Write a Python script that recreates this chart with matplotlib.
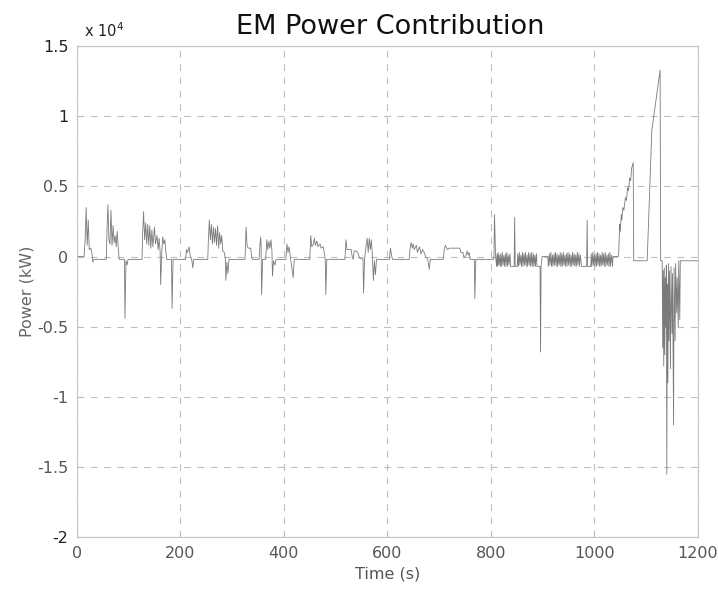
import matplotlib
matplotlib.use("Agg")
import matplotlib.pyplot as plt

# ---- data (time in s, power in W) ----
time_s = [
    0, 14, 16, 18, 20, 22, 24, 27, 29, 31, 33, 57, 58, 60, 62, 64, 66, 68, 70, 72, 74, 76, 78, 80, 82,
    92, 93, 95, 97, 99, 126, 127, 129, 131, 133, 135, 137, 139, 141, 143, 145, 147, 150, 152, 155, 157,
    159, 161, 162, 164, 166, 168, 170, 172, 174, 183, 184, 186, 210, 212, 214, 217, 219, 222, 224, 226,
    253, 254, 256, 258, 260, 262, 264, 266, 268, 270, 272, 274, 276, 278, 280, 282, 285, 287, 288, 290,
    292, 294, 325, 327, 329, 331, 336, 338, 340, 352, 355, 356, 357, 359, 365, 367, 369, 371, 373, 375,
    377, 378, 380, 383, 385, 404, 406, 408, 410, 412, 418, 420, 450, 452, 454, 457, 459, 461, 464, 466,
    470, 472, 476, 478, 480, 481, 483, 518, 520, 522, 530, 532, 534,
    536, 540, 544, 546, 553, 554, 556, 559, 561, 563, 565, 567, 569, 571, 573, 575, 577, 579, 604, 606,
    608, 610, 642, 644, 646, 648, 650, 652, 656, 658, 662, 665, 668, 671, 674, 678, 681, 683, 708, 710,
    712, 716, 720, 740, 742, 746, 748, 752, 754, 756, 758, 760, 768, 769, 771, 805, 806,
    807, 809, 811, 812, 813, 814, 815, 816, 818, 819, 820, 822, 823, 825, 826, 828, 829, 831, 832, 834,
    835, 837, 838, 845, 846, 847, 851,
    852, 853, 855, 856, 858, 859, 861, 862, 864, 865, 867, 868, 870, 871, 873, 874, 876, 877, 879, 880,
    882, 883, 885, 886, 888, 889, 895, 896, 897, 899, 910,
    911, 913, 914, 916, 917, 919, 920, 922, 923, 925, 926, 928, 929, 931, 932, 934, 935, 937, 938, 940,
    941, 943, 944, 946, 947, 949, 950, 952, 953, 955, 956, 958, 959, 961, 962, 964, 965, 967, 968, 970,
    971, 973, 975, 985, 986, 987, 993,
    994, 995, 997, 998, 1000, 1001, 1003, 1004, 1006, 1007, 1009, 1010, 1012, 1013, 1015, 1016, 1018,
    1019, 1021, 1022, 1024, 1025, 1027, 1028, 1030, 1031, 1033, 1035, 1036, 1046,
    1047, 1049, 1050, 1052, 1053, 1055, 1057, 1060, 1062, 1064, 1066, 1068, 1070, 1072, 1075, 1076,
    1102, 1111, 1127, 1128, 1131,
    1132, 1133, 1134, 1135, 1136, 1137, 1138, 1139, 1140, 1141, 1142, 1143, 1144, 1145, 1147, 1148,
    1150, 1151, 1153, 1154, 1156, 1157, 1159, 1160, 1162, 1163, 1165, 1166, 1200,
]
power_w = [
    0, 0, 1200, 3500, 800, 2600, 500, 600, 300, -400, -200, -200, 1500, 3700, 1200, 900, 3300, 800, 2200, 1000, 1500, 700, 1800, 600, -200,
    -200, -4400, -300, -600, -200, -200, 1500, 3200, 1200, 2400, 900, 2300, 800, 2200, 600, 1900, 700, 2100, 900, 1500, 500,
    1300, 300, -2000, 200, 1400, 900, 1200, 300, -200, -200, -3700, -200, -200, 500, 300, 700, 100, -200, -800, -200,
    -200, 1000, 2600, 1200, 2300, 900, 2100, 1000, 2000, 800, 2200, 600, 1700, 900, 1500, 400, 300, -200, -1700, -400,
    -1200, -200, -200, 2100, 800, 600, 600, -100, -200, -200, 1400, 800, -2700, -200, -200, 1200, 500, 1100, 600, 1200,
    400, -1400, -300, -600, -200, -200, 900, 300, 700, 100, -1500, -200, -200, 1500, 700, 900, 1300, 800, 1100, 700,
    900, 600, 700, 300, -200, -2700, -200, -200, 1200, 500, 500, 0, -200,
    400, 400, 200, -100, -200, -2600, -200, 800, 1300, 300, 1300, 500, 1200, 100, -1700, -300, -1300, -200, -200, 600,
    100, -200, -200, 600, 1000, 600, 900, 500, 800, 300, 700, 200, 500, 300, 0, -200, -900, -200, -200, 500,
    800, 500, 600, 600, 300, 300, -100, 100, 400, 100, 300, -200, -200, -3000, -200, -200, 0,
    3000, 100, -700, 200, -700, 300, -600, 100, -700, 200, -700, 300, -600, 100, -700, 200, -700, 300, -700, 100,
    -600, 200, -700, -700, 2800, -700, -700,
    200, -700, 300, -600, 100, -700, 300, -700, 200, -600, 300, -700, 100, -700, 300, -600, 200, -700, 300, -700,
    200, -700, 100, -700, 200, -700, -700, -6800, -700, 0, 0,
    -700, 200, -600, 300, -700, 100, -700, 200, -600, 300, -700, 200, -700, 100, -600, 300, -700, 200, -700, 300,
    -600, 100, -700, 200, -700, 300, -600, 200, -700, 100, -700, 300, -600, 200, -700, 100, -700, 300, -600, 200,
    -700, 100, -700, -700, 2600, -700, -700,
    200, -700, 300, -600, 100, -700, 200, -700, 300, -600, 200, -700, 100, -700, 300, -600, 200,
    -700, 300, -700, 100, -600, 200, -700, 300, -700, 100, -700, 0, 0,
    300, 2300, 1800, 3000, 2600, 3500, 3300, 4200, 4000, 4900, 4700, 5600, 5400, 6300, 6700, -300,
    -300, 9000, 13300, -300, -300,
    -6500, -1000, -7800, -800, -7000, -1500, -5000, -600, -15500, -2000, -9000, -500, -6000, -1000, -8000, -700,
    -5500, -1200, -12000, -800, -6000, -500, -4000, -1500, -5000, -300, -4500, -300, -300,
]

x_ticks = [0, 200, 400, 600, 800, 1000, 1200]
y_ticks = [-20000, -15000, -10000, -5000, 0, 5000, 10000, 15000]
y_tick_labels = ["-2", "-1.5", "-1", "-0.5", "0", "0.5", "1", "1.5"]

title = "EM Power Contribution"
x_label = "Time (s)"
y_label = "Power (kW)"

# ---- figure ----
fig = plt.figure(figsize=(7.18, 5.91), dpi=100)
ax = fig.add_axes([0.107, 0.091, 0.865, 0.831])

ax.plot(time_s, power_w, color="#7a7a7a", linewidth=0.6)

ax.set_xlim(0, 1200)
ax.set_ylim(-20000, 15000)
ax.set_xticks(x_ticks)
ax.set_yticks(y_ticks)
ax.set_yticklabels(y_tick_labels)

tick_color = "#555555"
ax.tick_params(axis="both", direction="in", length=3, colors="#bbbbbb",
               labelcolor=tick_color, labelsize=11.5, pad=6)
for lab in ax.get_yticklabels():
    if lab.get_text() in ("1", "1.5", "-2"):
        lab.set_color("#222222")

ax.grid(True, linestyle=(0, (6, 6)), color="#bdbdbd", linewidth=0.8)
for s in ax.spines.values():
    s.set_color("#c4c4c4")
    s.set_linewidth(0.8)

ax.set_title(title, fontsize=19.5, color="#111111", pad=9, x=0.505)
ax.set_xlabel(x_label, fontsize=11.5, color="#555555", labelpad=4)
ax.set_ylabel(y_label, fontsize=11.5, color="#666666", labelpad=2)

ax.text(0.012, 1.012, "x 10$^4$", transform=ax.transAxes, fontsize=10.5,
        color="#222222", ha="left", va="bottom")

fig.savefig("out.png", dpi=100)
